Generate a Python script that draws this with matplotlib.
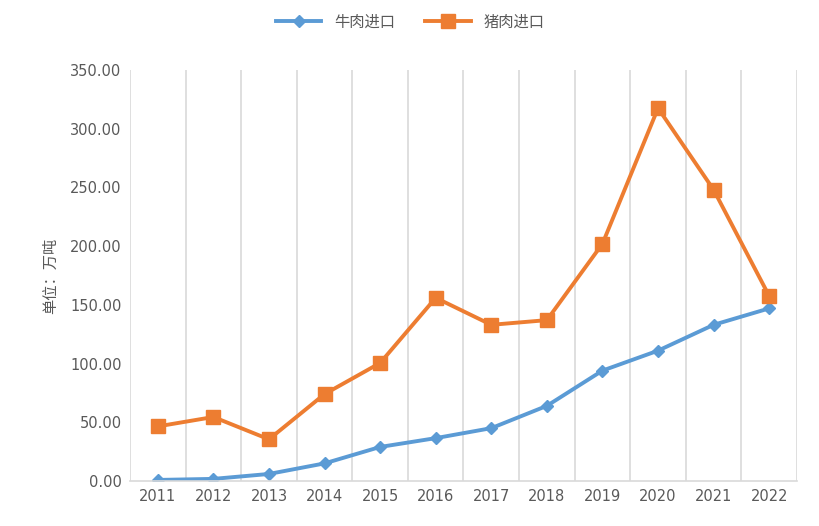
import matplotlib
matplotlib.use("Agg")
import matplotlib.pyplot as plt
from matplotlib.ticker import FormatStrFormatter

plt.rcParams["font.family"] = ["Noto Sans CJK SC", "DejaVu Sans"]

years = ["2011","2012","2013","2014","2015","2016","2017","2018","2019","2020","2021","2022"]
beef = [0.9, 1.8, 6.0, 15.0, 29.0, 36.5, 45.0, 64.0, 94.0, 111.0, 133.0, 147.0]
pork = [46.5, 54.5, 35.5, 74.0, 100.5, 156.0, 133.0, 137.0, 202.0, 317.5, 248.0, 157.5]

fig = plt.figure(figsize=(8.2, 5.26), dpi=100)
ax = fig.add_axes([130/820, 1-481/526, 667/820, 411/526])
x = list(range(len(years)))
ax.plot(x, beef, color="#5B9BD5", lw=2.8, marker="D", ms=6.5, label="牛肉进口")
ax.plot(x, pork, color="#ED7D31", lw=2.8, marker="s", ms=10, label="猪肉进口")
ax.set_xlim(-0.5, len(years)-0.5)
ax.set_ylim(0, 350)
ax.set_yticks(range(0, 351, 50))
ax.yaxis.set_major_formatter(FormatStrFormatter("%.2f"))
ax.set_xticks(x)
ax.set_xticklabels(years)
for b in range(len(years)+1):
    ax.axvline(b-0.5, color="#D9D9D9", lw=1.2, zorder=0)
for s in ["top", "right", "left"]:
    ax.spines[s].set_visible(False)
ax.spines["bottom"].set_color("#D9D9D9")
ax.spines["bottom"].set_linewidth(1.2)
ax.tick_params(axis="both", length=0, labelsize=11, colors="#595959", pad=6)
for t in ax.get_xticklabels():
    t.set_fontfamily("DejaVu Sans")
    t.set_fontsize(10.5)
for t in ax.get_yticklabels():
    t.set_fontfamily("DejaVu Sans")
    t.set_fontsize(10.5)
ax.set_ylabel("单位：万吨", color="#595959", fontsize=11, labelpad=8)
fig.legend(loc="upper center", bbox_to_anchor=(0.5, 1.0), ncol=2, frameon=False,
           fontsize=11, labelcolor="#595959", handlelength=3)
fig.savefig("out.png", dpi=100)
